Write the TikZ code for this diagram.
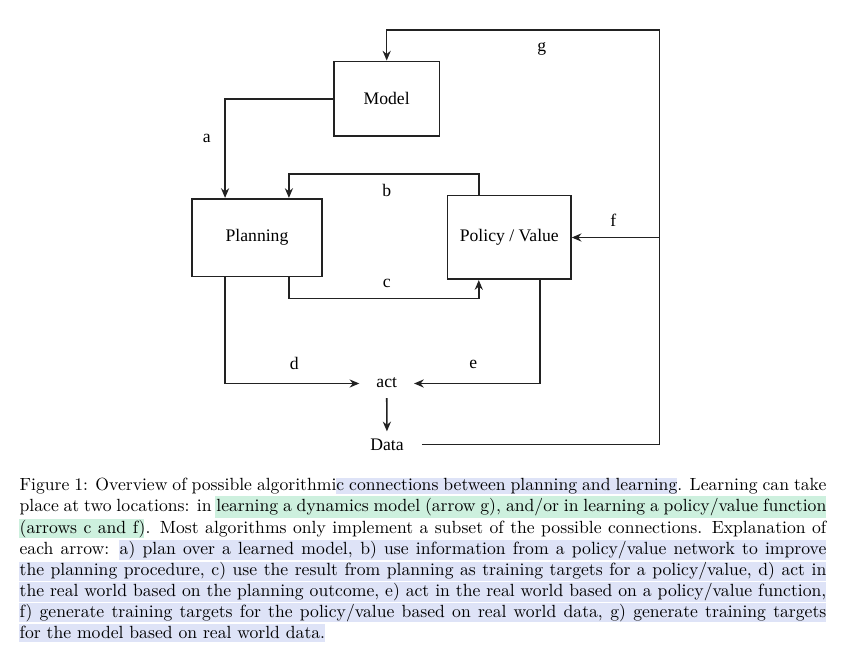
\documentclass[tikz,border=0pt]{standalone}
\usepackage{fontspec}
\usepackage{xcolor}
\usepackage{tikz}
\usetikzlibrary{positioning, arrows.meta}
\newfontfamily\figfont{Liberation Serif}
\definecolor{linegray}{RGB}{34,34,34}
\definecolor{hlblue}{RGB}{222,227,247}
\definecolor{hlgreen}{RGB}{205,240,222}

\begin{document}
\begin{tikzpicture}[x=0.567pt, y=-0.567pt, font=\figfont\fontsize{10}{12}\selectfont,
    block/.style={draw=linegray, line width=0.9pt, inner sep=0pt},
    flow/.style={draw=linegray, line width=0.9pt, -{Stealth[length=5.5pt, width=4.6pt]}},
    wire/.style={draw=linegray, line width=0.9pt}]
    \useasboundingbox (0,0) rectangle (847,650);

    % boxes
    \node[block, minimum width=59.9pt, minimum height=42.5pt] (model) at (386.7,98.8) {Model};
    \node[block, minimum width=73.4pt, minimum height=44.2pt] (planning) at (257,237.7) {Planning};
    \node[block, minimum width=69.9pt, minimum height=47.4pt] (policy) at (509.3,237.5) {Policy / Value};
    \node[text height=4.5pt, text depth=0pt, inner xsep=9.5pt, inner ysep=5.8pt] (act) at (386.7,383.5) {act};
    \node[text height=6.6pt, text depth=0pt, inner xsep=10.2pt, inner ysep=3.85pt] (data) at (387,444.3) {Data};
    \coordinate (corner) at (659.3,444.3);
    \coordinate (top) at (659.3,30);

    % arrows
    \draw[flow] (model.west) -| ([xshift=-18.1pt]planning.north);
    \draw[flow] ([xshift=-17.3pt]policy.north) -- ++(0,-20.7) -| ([xshift=18.1pt]planning.north);
    \draw[flow] ([xshift=18.1pt]planning.south) -- ++(0,21) -| ([xshift=-17.3pt]policy.south);
    \draw[flow] ([xshift=-18.1pt]planning.south) |- (act.west);
    \draw[flow] ([xshift=17.3pt]policy.south) |- (act.east);
    \draw[flow] (act) -- (data);
    \draw[flow] (data.east) -- (corner) -- (top) -| (model.north);
    \draw[flow] (corner |- policy.east) -- (policy.east);

    % labels
    \node at (206.7,138.3) {a};
    \node at (386.7,190.7) {b};
    \node at (386.7,283.3) {c};
    \node at (294.3,363.3) {d};
    \node at (473.3,364.3) {e};
    \node at (613.3,220.7) {f};
    \node at (541.7,49.3) {g};

    % caption highlights
    \fill[hlblue]  (336,478.3) rectangle (676.7,494.3);
    \fill[hlgreen] (215,496) rectangle (826,517.7);
    \fill[hlgreen] (19,519) rectangle (144,538);
    \fill[hlblue]  (119.3,540) rectangle (826,560);
    \fill[hlblue]  (19,562) rectangle (826,580.7);
    \fill[hlblue]  (19,582) rectangle (826,601.7);
    \fill[hlblue]  (19,603) rectangle (826,622);
    \fill[hlblue]  (19,624) rectangle (325,641.7);

    \node[anchor=base west, inner sep=0pt, text width=457.4pt, align=justify,
          font=\rmfamily\fontsize{10}{12}\selectfont] (caption) at (19.3,490.7)
    {Figure 1: Overview of possible algorithmic connections between planning and learning. Learning can take\linebreak
     place at two locations: in learning a dynamics model (arrow g), and/or in learning a policy/value function\linebreak
     (arrows c and f). Most algorithms only implement a subset of the possible connections. Explanation of\linebreak
     each arrow: a) plan over a learned model, b) use information from a policy/value network to improve\linebreak
     the planning procedure, c) use the result from planning as training targets for a policy/value, d) act in\linebreak
     the real world based on the planning outcome, e) act in the real world based on a policy/value function,\linebreak
     f) generate training targets for the policy/value based on real world data, g) generate training targets\linebreak
     for the model based on real world data.};
\end{tikzpicture}
\end{document}
